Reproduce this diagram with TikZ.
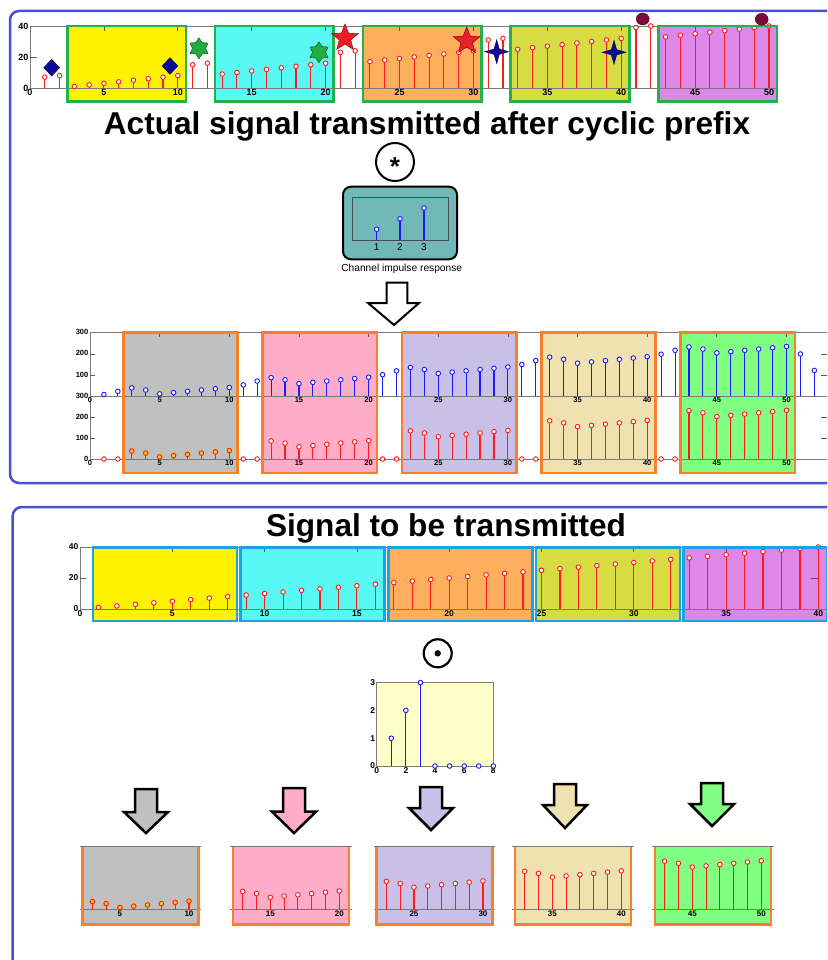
\documentclass[tikz,border=0pt]{standalone}
\usepackage{fontspec}
\setmainfont{Liberation Sans}
\usetikzlibrary{shapes.geometric}
\definecolor{cFrame}{HTML}{4850D0}
\definecolor{cGreenB}{HTML}{22B14C}
\definecolor{cBlueB}{HTML}{1AA3E0}
\definecolor{cOrangeB}{HTML}{FA7F2A}
\definecolor{cAxis}{HTML}{7A7A7A}
\definecolor{cStemR}{HTML}{FF1A1A}
\definecolor{cStemB}{HTML}{1A1AFF}
\definecolor{cNavy}{HTML}{0A0A96}
\definecolor{cStarG}{HTML}{22AA44}
\definecolor{cStarR}{HTML}{E8202A}
\definecolor{cMaroon}{HTML}{7A0A3A}
\definecolor{cMkY}{HTML}{FFD000}
\definecolor{fYellow}{HTML}{FFF200}
\definecolor{fCyan}{HTML}{5AF8F5}
\definecolor{fOrange}{HTML}{FFAE5E}
\definecolor{fOlive}{HTML}{D6DC42}
\definecolor{fPurple}{HTML}{DD88E8}
\definecolor{fGray}{HTML}{C0C0C0}
\definecolor{fPink}{HTML}{FFACC8}
\definecolor{fLav}{HTML}{C8C0E6}
\definecolor{fWheat}{HTML}{F0E2B0}
\definecolor{fLime}{HTML}{80FF80}
\definecolor{fTeal}{HTML}{72B8B8}
\definecolor{fCream}{HTML}{FFFFC8}
\tikzset{
  panelframe/.style={draw=cFrame, line width=2.5pt, rounded corners=9pt},
  axisline/.style={draw=cAxis, line width=0.8pt},
  tickmark/.style={draw=black!65, line width=0.8pt},
  ticklbl/.style={font=\fontsize{9}{9}\selectfont\bfseries, inner sep=1.5pt},
  midlbl/.style={font=\fontsize{8.5}{8.5}\selectfont\bfseries, inner sep=1.5pt},
  botlbl/.style={font=\fontsize{8}{8}\selectfont\bfseries, inner sep=1.5pt},
  smlbl/.style={font=\fontsize{7.5}{7.5}\selectfont\bfseries, inner sep=1.5pt},
  stemr/.style={draw=cStemR, line width=1.1pt},
  stemb/.style={draw=cStemB, line width=1.1pt},
  dotr/.style={draw=cStemR, fill=white, line width=0.9pt},
  dotb/.style={draw=cStemB, fill=white, line width=0.9pt},
  greenbox/.style={draw=cGreenB, line width=2.6pt},
  bluebox/.style={draw=cBlueB, line width=2.6pt},
  orangebox/.style={draw=cOrangeB, line width=2.6pt},
  blkarrow/.style={draw=black, line width=2.5pt, line join=miter},
  bigtitle/.style={font=\fontsize{31.6}{34}\selectfont\bfseries, inner sep=0pt},
  mkdiam/.style={diamond, fill=cNavy, draw=cNavy!60!black, minimum width=16pt, minimum height=17pt, inner sep=0pt},
  sixstar/.style={star, star points=6, star point ratio=1.6, fill=cStarG, draw=green!35!black, minimum size=21pt, inner sep=0pt},
  fivestar/.style={star, star points=5, star point ratio=2.3, fill=cStarR, draw=red!45!black, minimum size=28pt, inner sep=0pt},
  fourstar/.style={star, star points=4, star point ratio=3.2, fill=cNavy, draw=cNavy!60!black, minimum size=24pt, inner sep=0pt},
  mkball/.style={ellipse, fill=cMaroon, draw=cMaroon!70!black, minimum width=13pt, minimum height=12pt, inner sep=0pt},
}
\newcommand{\dnarrow}[5]{% centre x, top, neck, tip, fill
  \draw[blkarrow, fill=#5] ({#1-11},#2) -- ({#1+11},#2) -- ({#1+11},#3) -- ({#1+22},#3)
    -- (#1,#4) -- ({#1-22},#3) -- ({#1-11},#3) -- cycle;}

\begin{document}
\begin{tikzpicture}[x=1pt, y=-1pt]
  \useasboundingbox (0,0) rectangle (827,960);
  \clip (0,0) rectangle (827,960);
  \fill[white] (0,0) rectangle (827,960);

  \draw[panelframe] (10,11) rectangle (850,483);
  \draw[panelframe] (12.7,507) rectangle (850,990);

  % signal with cyclic prefix
  \begin{scope}[shift={(30,88)}, x=14.78pt, y=1.55pt]
    \foreach \a/\c in {2.52/fYellow,12.52/fCyan,22.52/fOrange,32.52/fOlive,42.52/fPurple}
      \fill[\c] (\a,40) rectangle (\a+8.03,-8.7);
    \draw[axisline] (50.6,40) -- (0,40) -- (0,0) -- (50.6,0);
    \draw[tickmark] (0,20) -- (0.45,20);
    \foreach \t in {5,10,...,50} {
      \draw[tickmark] (\t,40) -- (\t,37);
      \node[ticklbl, below] at (\t,0) {\t};
    }
    \node[ticklbl, below] at (0,0) {0};
    \foreach \t in {0,20,40} \node[ticklbl, left] at (0,\t) {\t};
    \foreach \v [count=\n] in {7,8,1,2,3,4,5,6,7,8,15,16,9,10,11,12,13,14,15,16,
        23,24,17,18,19,20,21,22,23,24,31,32,25,26,27,28,29,30,31,32,
        39,40,33,34,35,36,37,38,39,40} {
      \draw[stemr] (\n,0) -- (\n,\v);
      \filldraw[dotr] (\n,\v) circle[radius=2.3pt];
    }
    \foreach \a in {2.52,12.52,22.52,32.52,42.52}
      \draw[greenbox] (\a,40) rectangle (\a+8.03,-8.7);
  \end{scope}
  \node[mkdiam] (dm1) at (51.7,67.7) {};
  \node[mkdiam] (dm2) at (170,66) {};
  \node[sixstar] (sg1) at (199,48.3) {};
  \node[sixstar] (sg2) at (319,52.3) {};
  \node[fivestar] (sr1) at (345,38) {};
  \node[fivestar] (sr2) at (466.7,41) {};
  \node[fourstar] (sn1) at (496.7,51.7) {};
  \node[fourstar] (sn2) at (614,52.3) {};
  \node[mkball] (bm1) at (642.7,19) {};
  \node[mkball] (bm2) at (761.7,19.3) {};

  \node[bigtitle, anchor=base] (t1) at (427,135) {Actual signal transmitted after cyclic prefix};

  % channel
  \draw[line width=2pt] (395,162) circle[radius=19];
  \node[font=\fontsize{26}{26}\selectfont\bfseries, inner sep=0pt] (conv) at (395,167) {*};
  \draw[line width=2pt, fill=fTeal, rounded corners=8pt] (343,186.7) rectangle (457,259.3);
  \draw[draw=black!70, line width=0.8pt] (352.7,197.3) rectangle (448.3,240);
  \foreach \x/\y/\l in {376.7/229.3/1,400/218.7/2,424/208/3} {
    \draw[stemb] (\x,240) -- (\x,\y);
    \filldraw[dotb] (\x,\y) circle[radius=2.3pt];
    \node[font=\fontsize{10}{10}\selectfont, inner sep=0pt] at (\x,247) {\l};
  }
  \node[font=\fontsize{10.2}{11}\selectfont, inner sep=0pt] (chlbl) at (401.7,269.3) {Channel impulse response};
  \draw[line width=2pt, fill=white] (386.7,282.7) -- (407.3,282.7) -- (407.3,303) -- (419,303)
    -- (394,325) -- (368,303) -- (386.7,303) -- cycle;

  % received signal, full and prefix removed
  \foreach \a/\c in {3/fGray,13/fPink,23/fLav,33/fWheat,43/fLime}
    \fill[\c] ({90+13.93*(\a-0.6)},332.5) rectangle ({90+13.93*(\a+7.6)},473);
  \draw[axisline] (827,332) -- (90,332) -- (90,459) -- (827,459);
  \draw[axisline] (90,396) -- (827,396);
  \foreach \y in {354,375,417,438} {
    \draw[tickmark] (90,\y) -- (95,\y);
    \draw[tickmark] (821,\y) -- (827,\y);
  }
  \begin{scope}[shift={(90,396)}, x=13.93pt, y=0.2133pt]
    \foreach \t in {5,10,...,50} {
      \draw[tickmark] (\t,300) -- (\t,278);
      \node[smlbl, below] at (\t,0) {\t};
    }
    \node[smlbl, below] at (0,0) {0};
    \foreach \t in {100,200,300} \node[smlbl, left] at (0,\t) {\t};
    \foreach \v [count=\n] in {7,22,38,28,10,16,22,28,34,40,52,70,86,76,58,64,70,76,82,88,
        100,118,134,124,106,112,118,124,130,136,148,166,182,172,154,160,166,172,178,184,
        196,214,230,220,202,208,214,220,226,232,197,120} {
      \draw[stemb] (\n,0) -- (\n,\v);
      \filldraw[dotb] (\n,\v) circle[radius=2.3pt];
    }
  \end{scope}
  \begin{scope}[shift={(90,459)}, x=13.93pt, y=0.21pt]
    \foreach \t in {5,10,...,50} \node[smlbl, below] at (\t,0) {\t};
    \node[smlbl, below] at (0,0) {0};
    \foreach \t in {0,100,200,300} \node[smlbl, left] at (0,\t) {\t};
    \foreach \k/\mf in {0/cMkY,1/white,2/white,3/white,4/white} {
      \foreach \j in {1,2} \filldraw[dotr] ({10*\k+\j},0) circle[radius=2.3pt];
      \foreach \b [count=\j from 3] in {38,28,10,16,22,28,34,40} {
        \pgfmathsetmacro\v{48*\k+\b}
        \draw[stemr] ({10*\k+\j},0) -- ({10*\k+\j},\v);
        \filldraw[dotr, fill=\mf] ({10*\k+\j},\v) circle[radius=2.3pt];
      }
    }
  \end{scope}
  \foreach \a in {3,13,23,33,43}
    \draw[orangebox] ({90+13.93*(\a-0.6)},332.5) rectangle ({90+13.93*(\a+7.6)},473);

  % signal to be transmitted
  \node[bigtitle, anchor=base] (t2) at (446,536) {Signal to be transmitted};
  \begin{scope}[shift={(80,609)}, x=18.46pt, y=1.55pt]
    \foreach \a/\c in {0/fYellow,8/fCyan,16/fOrange,24/fOlive,32/fPurple}
      \fill[\c] (\a+0.7,39.7) rectangle (\a+8.5,-7.7);
    \draw[axisline] (40.6,40) -- (0,40) -- (0,0) -- (40.6,0);
    \draw[tickmark] (0,20) -- (0.3,20);
    \draw[tickmark] (40,20) -- (39.6,20);
    \foreach \t in {5,10,...,40} {
      \draw[tickmark] (\t,40) -- (\t,37);
      \node[midlbl, below] at (\t,0) {\t};
    }
    \node[midlbl, below] at (0,0) {0};
    \foreach \t in {0,20,40} \node[midlbl, left] at (0,\t) {\t};
    \foreach \n in {1,...,40} {
      \draw[stemr] (\n,0) -- (\n,\n);
      \filldraw[dotr] (\n,\n) circle[radius=2.3pt];
    }
    \foreach \a in {0,8,16,24,32}
      \draw[bluebox] (\a+0.7,39.7) rectangle (\a+8.5,-7.7);
  \end{scope}

  % kernel
  \draw[line width=2.2pt] (437.7,653.3) circle[radius=14];
  \fill (437.7,653.3) circle[radius=3.2];
  \begin{scope}[shift={(376.7,766)}, x=14.58pt, y=27.8pt]
    \filldraw[fill=fCream, draw=cAxis, line width=0.8pt] (0,0) rectangle (8,3);
    \foreach \t in {0,2,4,6,8} \node[midlbl, below] at (\t,0) {\t};
    \foreach \t in {0,1,2,3} \node[midlbl, left] at (0,\t) {\t};
    \foreach \n/\v in {1/1,2/2,3/3,4/0,5/0,6/0,7/0,8/0} {
      \draw[stemb] (\n,0) -- (\n,\v);
      \filldraw[dotb] (\n,\v) circle[radius=2.3pt];
    }
  \end{scope}

  % blocks after removing the prefix
  \dnarrow{146}{789}{812}{833}{fGray}
  \dnarrow{294}{788}{811.7}{833}{fPink}
  \dnarrow{431}{787}{808}{830}{fLav}
  \dnarrow{565}{784}{805}{828}{fWheat}
  \dnarrow{712}{783}{804}{826}{fLime}
  \foreach \k/\L/\c/\mf in {0/82.7/fGray/cMkY,1/233/fPink/white,2/376.7/fLav/white,3/515/fWheat/white,4/655/fLime/white} {
    \begin{scope}[shift={(\L,909.5)}, x=13.8pt, y=0.21pt]
      \fill[\c] (0,300) rectangle (8.4,-71.4);
      \draw[axisline] (-0.2,300) -- (8.6,300);
      \draw[axisline] (-0.2,0) -- (8.6,0);
      \pgfmathtruncatemacro\la{10*\k+5}
      \pgfmathtruncatemacro\lb{10*\k+10}
      \node[botlbl, below] at (2.7,0) {\la};
      \node[botlbl, below] at (7.7,0) {\lb};
      \foreach \b [count=\j] in {38,28,10,16,22,28,34,40} {
        \pgfmathsetmacro\v{48*\k+\b}
        \draw[stemr] (\j-0.3,0) -- (\j-0.3,\v);
        \filldraw[dotr, fill=\mf] (\j-0.3,\v) circle[radius=2.3pt];
      }
      \draw[orangebox] (0,300) -- (0,-71.4) -- (8.4,-71.4) -- (8.4,300);
    \end{scope}
  }
\end{tikzpicture}
\end{document}
